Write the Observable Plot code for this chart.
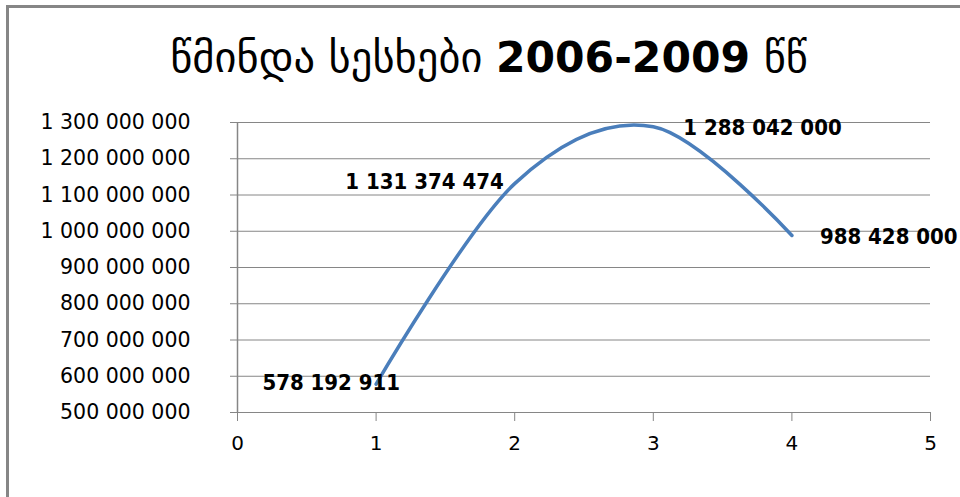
<!DOCTYPE html>
<html>
<head>
<meta charset="utf-8">
<script src="https://cdn.jsdelivr.net/npm/d3@7"></script>
<script src="https://cdn.jsdelivr.net/npm/@observablehq/plot@0.6"></script>
<style>
  html, body { margin: 0; padding: 0; background: #fff; }
  #wrap { position: relative; width: 960px; height: 497px; overflow: hidden; background: #fff; }
  #bt { position: absolute; left: 6px; top: 5px; width: 960px; height: 3px; background: #868686; }
  #bl { position: absolute; left: 6px; top: 5px; width: 3px; height: 500px; background: #868686; }
  #title { position: absolute; left: 0; top: 28px; width: 978px; text-align: center;
           font-family: "DejaVu Sans", sans-serif; font-size: 42.5px; color: #000; line-height: 60px; }
  #title b { font-weight: bold; }
  #chart { position: absolute; left: 0; top: 100px; }
</style>
</head>
<body>
<div id="wrap">
  <div id="bt"></div>
  <div id="bl"></div>
  <div id="title">წმინდა სესხები <b>2006-2009</b> წწ</div>
  <div id="chart"></div>
</div>
<script>
const xValues = [1, 2, 3, 4];
const yValues = [578192911, 1131374474, 1288042000, 988428000];
const labels = ["578 192 911", "1 131 374 474", "1 288 042 000", "988 428 000"];
const yTicks = [500e6, 600e6, 700e6, 800e6, 900e6, 1000e6, 1100e6, 1200e6, 1300e6];
const xTicks = [0, 1, 2, 3, 4, 5];

const data = xValues.map((x, i) => ({x, y: yValues[i], label: labels[i], i}));
const fmt = d => d3.format(",")(d).replace(/,/g, " ");
const gray = "#868686";
const labelFont = {fontFamily: "DejaVu Sans Condensed, DejaVu Sans, sans-serif", fontWeight: "bold", fontSize: 22, fill: "#000"};

const labelSpecs = [
  {dx: 24, dy: -1, anchor: "end"},
  {dx: -11, dy: -2, anchor: "end"},
  {dx: 30, dy: 1, anchor: "start"},
  {dx: 28, dy: 2, anchor: "start"}
];

const chart = Plot.plot({
  width: 960,
  height: 397,
  marginLeft: 237,
  marginRight: 30,
  marginTop: 22,
  marginBottom: 85,
  style: {fontFamily: "DejaVu Sans, sans-serif", background: "transparent", overflow: "visible"},
  x: {domain: [0, 5]},
  y: {domain: [500e6, 1300e6]},
  marks: [
    Plot.ruleY(yTicks, {stroke: gray, strokeWidth: 1, strokeOpacity: 1}),
    Plot.ruleX([0], {stroke: gray, strokeWidth: 1.5}),
    Plot.axisY({ticks: yTicks, tickFormat: fmt, tickSize: 7, tickPadding: 40, stroke: gray, strokeOpacity: 1, fontSize: 20.5, fill: "#000", label: null}),
    Plot.axisX({ticks: xTicks, tickFormat: d3.format("d"), tickSize: 9, tickPadding: 14, stroke: gray, strokeOpacity: 1, fontSize: 20, fill: "#000", label: null}),
    Plot.line(data, {x: "x", y: "y", curve: "cardinal", stroke: "#4a7ebb", strokeWidth: 3.5}),
    ...labelSpecs.map((s, k) => Plot.text(data.filter(d => d.i === k), {
      x: "x", y: "y", text: "label", dx: s.dx, dy: s.dy, textAnchor: s.anchor, ...labelFont
    }))
  ]
});
document.getElementById("chart").appendChild(chart);
</script>
</body>
</html>
